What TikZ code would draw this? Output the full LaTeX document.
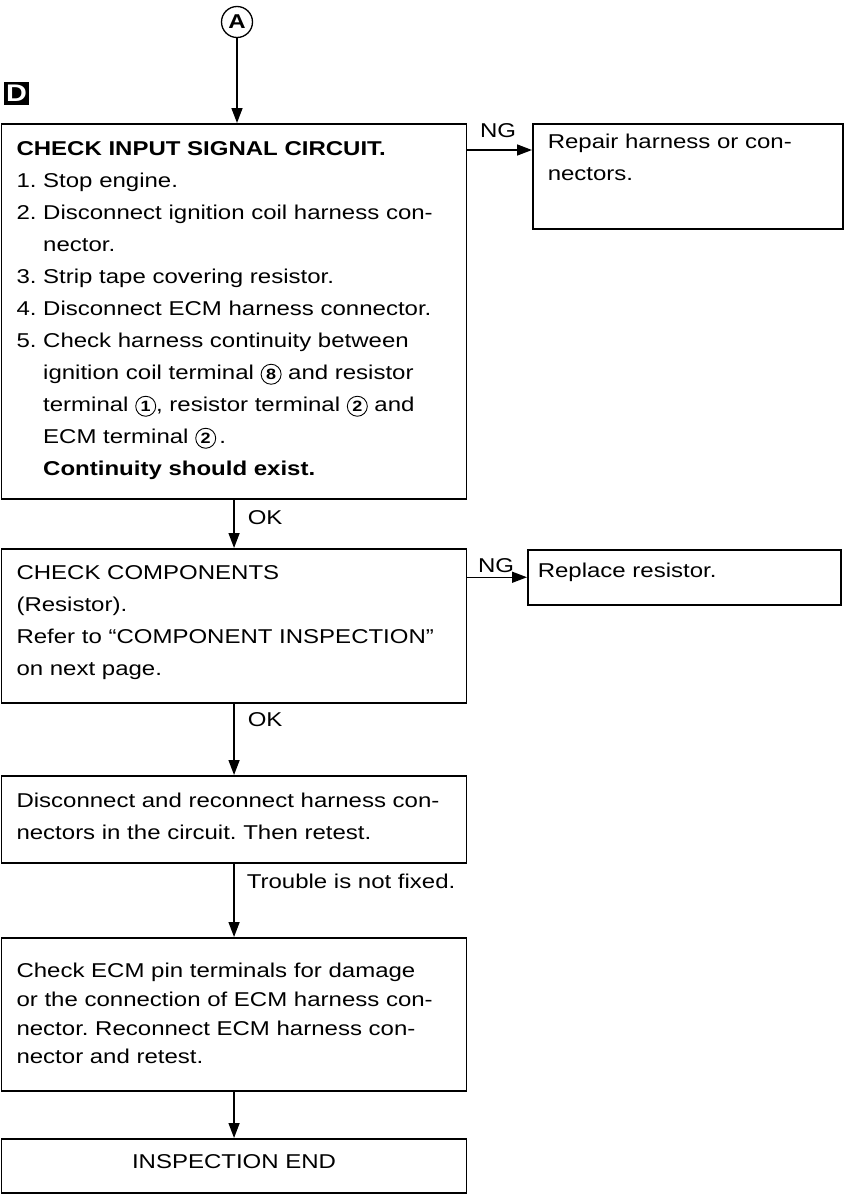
\documentclass[tikz,border=0pt]{standalone}
\usepackage{fontspec}
\setmainfont{Liberation Sans}[FakeStretch=1.2]
\usetikzlibrary{arrows.meta}

\newcommand{\cnum}[1]{\tikz[baseline=(cn.base)]\node[circle,draw,line width=0.9pt,minimum size=20pt,inner sep=0pt,text height=11pt,text depth=0pt,font=\bfseries\fontsize{15}{15}\selectfont] (cn) {#1};}
\newcommand{\steplines}[2]{\makebox[#1][l]{\begin{tabular}[t]{@{}l@{}}#2\end{tabular}}}

\tikzset{
  stepbox/.style={draw, line width=1.5pt, anchor=north west, inner xsep=15pt, inner ysep=0pt, minimum width=465pt},
  flow/.style={line width=1.5pt, -{Triangle[length=15pt,width=11pt]}},
  tag/.style={anchor=base west, inner sep=0pt},
}

\begin{document}
\frenchspacing
\begin{tikzpicture}[x=1pt, y=1pt, font=\fontsize{20}{32}\selectfont]
\useasboundingbox (0,0) rectangle (849,-1194);

% entry mark and section mark
\node[circle, draw, line width=1.3pt, minimum size=31pt, inner sep=0pt, font=\bfseries\fontsize{20}{20}\selectfont] (A) at (237,-22) {A};
\node[fill=black, text=white, minimum width=25pt, minimum height=23pt, inner sep=0pt, font=\bfseries\fontsize{24}{24}\selectfont] (D) at (16.5,-93) {D};

% main column
\node[stepbox, text height=32pt, text depth=343pt] (chk) at (0.8,-123) {\steplines{435pt}{%
  \textbf{CHECK INPUT SIGNAL CIRCUIT.}\\
  1. Stop engine.\\
  2. Disconnect ignition coil harness con-\\
  \hphantom{2. }nector.\\
  3. Strip tape covering resistor.\\
  4. Disconnect ECM harness connector.\\
  5. Check harness continuity between\\
  \hphantom{5. }ignition coil terminal \cnum{8} and resistor\\
  \hphantom{5. }terminal \cnum{1}, resistor terminal \cnum{2} and\\
  \hphantom{5. }ECM terminal \cnum{2}\,.\\
  \hphantom{5. }\textbf{Continuity should exist.}}};
\node[stepbox, text height=31pt, text depth=123pt] (comp) at (0.8,-548) {\steplines{435pt}{%
  CHECK COMPONENTS\\
  (Resistor).\\
  Refer to ``COMPONENT INSPECTION''\\
  on next page.}};
\node[stepbox, text height=32pt, text depth=55pt] (redo) at (0.8,-775) {\steplines{435pt}{%
  Disconnect and reconnect harness con-\\
  nectors in the circuit. Then retest.}};
\node[stepbox, text height=40pt, text depth=113pt, font=\fontsize{20}{28.7}\selectfont] (pins) at (0.8,-937) {\steplines{435pt}{%
  Check ECM pin terminals for damage\\
  or the connection of ECM harness con-\\
  nector. Reconnect ECM harness con-\\
  nector and retest.}};
\node[stepbox, text height=30pt, text depth=24pt] (done) at (0.8,-1138) {\makebox[435pt]{INSPECTION END}};

% side branches
\node[stepbox, minimum width=310pt, text height=25pt, text depth=80pt] (fix) at (532,-123) {\steplines{280pt}{%
  Repair harness or con-\\
  nectors.}};
\node[stepbox, minimum width=313pt, inner xsep=10pt, text height=28pt, text depth=27pt] (swap) at (527,-549) {\steplines{293pt}{Replace resistor.}};

% connectors
\coordinate (ngfix) at (0,-150);
\draw[flow] (A) -- (A |- chk.north);
\draw[flow] (chk.east |- ngfix) -- node[tag, pos=0, xshift=12pt, yshift=13pt] {NG} (fix.west |- ngfix);
\draw[flow] (comp.east |- swap.west) -- node[tag, pos=0, xshift=10pt, yshift=5pt] {NG} (swap.west);
\draw[flow] (chk.south) -- node[tag, pos=0, xshift=13pt, yshift=-25pt] {OK} (comp.north);
\draw[flow] (comp.south) -- node[tag, pos=0, xshift=13pt, yshift=-23pt] {OK} (redo.north);
\draw[flow] (redo.south) -- node[tag, pos=0, xshift=12pt, yshift=-25pt] {Trouble is not fixed.} (pins.north);
\draw[flow] (pins.south) -- (done.north);
\end{tikzpicture}
\end{document}
